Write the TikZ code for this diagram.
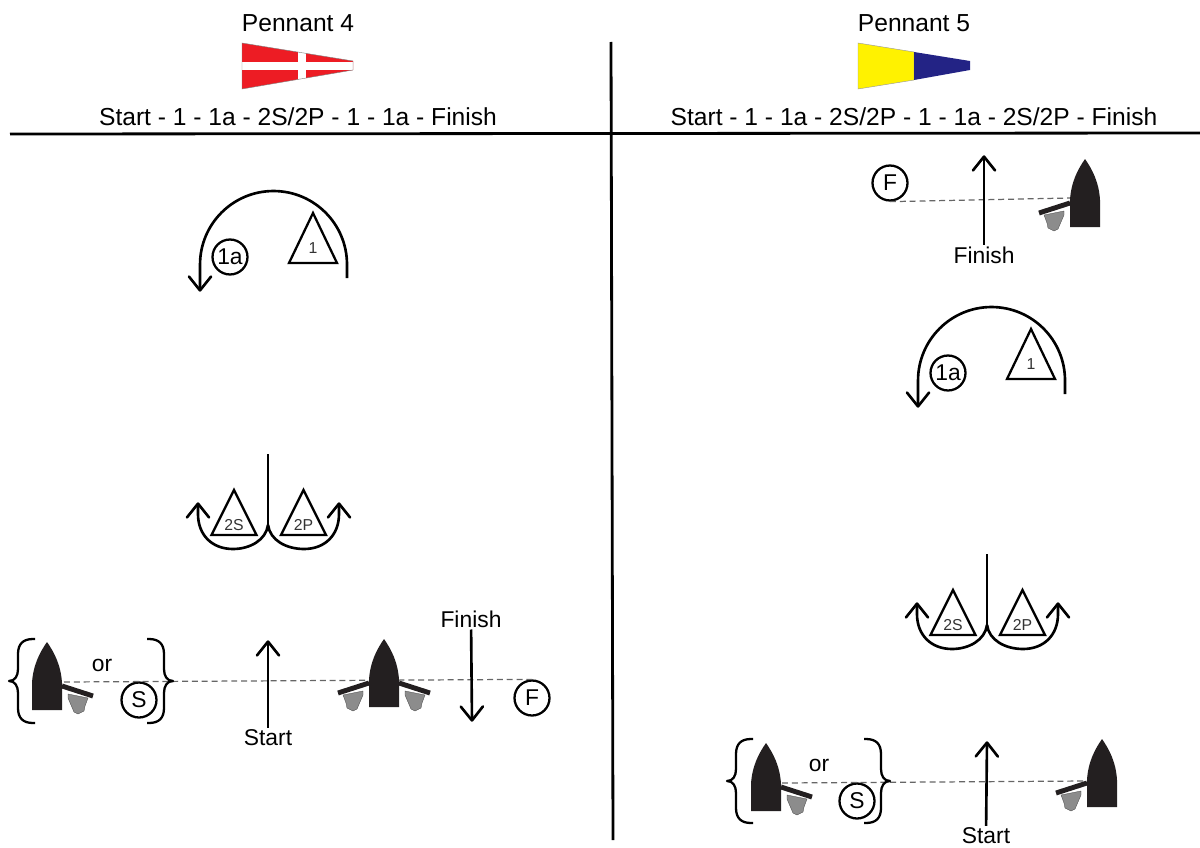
\documentclass[tikz,border=0pt]{standalone}
\usepackage{fontspec}
\setmainfont{Liberation Sans}
\usetikzlibrary{arrows.meta,shapes.geometric}

\definecolor{hullblack}{HTML}{231F20}
\definecolor{bladegray}{HTML}{8C8C8C}
\definecolor{flagred}{HTML}{ED1C24}
\definecolor{flagyellow}{HTML}{FFF200}
\definecolor{flagblue}{HTML}{232385}

% plain open head, two straight strokes
\pgfdeclarearrow{
    name=OpenHead,
    setup code={\pgfarrowssettipend{0.9pt}\pgfarrowssetlineend{-0.8pt}\pgfarrowssetbackend{-8pt}},
    drawing code={
        \pgfsetlinewidth{1.5pt}\pgfsetroundcap\pgfsetroundjoin
        \pgfpathmoveto{\pgfqpoint{-7.9pt}{6.3pt}}
        \pgfpathlineto{\pgfqpoint{0pt}{0pt}}
        \pgfpathlineto{\pgfqpoint{-7.9pt}{-6.3pt}}
        \pgfusepathqstroke
    }
}

\tikzset{
    course/.style={line width=1.5pt, black, -{OpenHead}},
    rule/.style={line width=1.6pt, black},
    sweep/.style={line width=1.5pt, black},
    startline/.style={line width=0.7pt, black!60, dash pattern=on 3.4pt off 2.2pt},
    roundmark/.style={circle, draw, line width=1.3pt, minimum size=0.7cm, inner sep=0pt, font=\fontsize{13}{15}\selectfont},
    bigtext/.style={font=\fontsize{14}{17}\selectfont, inner sep=1pt},
    smalltext/.style={font=\fontsize{13}{15}\selectfont, inner sep=1pt},
    buoy/.style={isosceles triangle, isosceles triangle stretches, shape border rotate=90, draw,
        line width=1.3pt, inner sep=0pt, outer sep=0pt, anchor=lower side, text=black!80,
        font=\fontsize{9}{10}\selectfont},
    curly/.pic={
        \draw[line width=1.3pt, black, line join=round] (26,42) -- (24,42) .. controls (14,42) and (9,37) .. (9,27) -- (9,12)
            .. controls (9,5) and (6,0) .. (0,0) .. controls (6,0) and (9,-5) .. (9,-12) -- (9,-27)
            .. controls (9,-37) and (14,-42) .. (24,-42) -- (26,-42);
    },
    hull/.pic={
        \fill[hullblack] (-15,0) -- (-15,27) .. controls (-14,45) and (-7,58) .. (0,68)
            .. controls (7,58) and (14,45) .. (15,27) -- (15,0) -- cycle;
    },
    tiller/.pic={
        \fill[bladegray, draw=black!70, line width=0.2pt] (21,16) -- (41,12) -- (38,4) -- (37,-1) -- (31,-4) -- (27,-2) -- (21,12) -- cycle;
        \draw[line width=2.8pt, hullblack] (15,24) -- (46,14);
    },
    rounding/.pic={
        \draw[course] (73.5,-13.5) -- (73.5,0) arc[start angle=0, end angle=180, radius=1.47cm] -- (-73.5,-27.5);
        \node[roundmark] (a) at (-43.5,7.5) {1a};
        \node[buoy, minimum width=0.96cm, minimum height=1cm] (one) at (39.5,1.5) {1};
    },
    gate/.pic={
        \draw[sweep] (0,73) -- (0,2);
        \draw[course] (0,2) .. controls (-2,-13) and (-18,-22) .. (-35,-22)
            .. controls (-56,-22) and (-70,-8) .. (-70,13) -- (-70,25);
        \draw[course] (0,2) .. controls (2,-13) and (18,-22) .. (36,-22)
            .. controls (57,-22) and (71,-8) .. (71,13) -- (71,25);
        \node[buoy, minimum width=0.9cm, minimum height=0.9cm] (s) at (-34,-8) {2S};
        \node[buoy, minimum width=0.9cm, minimum height=0.9cm] (p) at (35.5,-8) {2P};
    }
}

\begin{document}
\begin{tikzpicture}[x=0.02cm, y=0.02cm]
    \useasboundingbox (0,0) rectangle (1200,-848);

    % dividers
    \coordinate (ruleL) at (10,-134);
    \coordinate (ruleR) at (1200,-133);
    \coordinate (ruleT) at (611,-42);
    \coordinate (ruleB) at (613,-840);
    \draw[rule] (ruleL) -- (ruleR);
    \draw[rule] (ruleT) -- (ruleB);

    % headings
    \node[bigtext] (titleA) at (298,-23) {Pennant 4};
    \node[bigtext] (titleB) at (914,-23) {Pennant 5};
    \node[bigtext] (seqA) at (298,-117) {Start - 1 - 1a - 2S/2P - 1 - 1a - Finish};
    \node[bigtext] (seqB) at (914,-117) {Start - 1 - 1a - 2S/2P - 1 - 1a - 2S/2P - Finish};

    % pennants
    \fill[flagred] (242,-43) -- (353,-61) -- (353,-70) -- (242,-89) -- cycle;
    \fill[white] (242,-62) rectangle (353,-70);
    \fill[white] (298,-51) rectangle (306,-81);
    \draw[line width=0.25pt, black!50] (242,-43) -- (353,-61) -- (353,-70) -- (242,-89) -- cycle;
    \fill[flagyellow, draw=black!40, line width=0.25pt] (858,-43) -- (914,-52) -- (914,-80) -- (858,-89) -- cycle;
    \fill[flagblue] (914,-52) -- (970,-61) -- (970,-70) -- (914,-80) -- cycle;

    % Pennant 4 course
    \pic (roundA) at (273.5,-264.5) {rounding};
    \pic (gateA) at (268,-527) {gate};

    \node[smalltext] (orA) at (102,-665) {or};
    \node[roundmark] (sA) at (139,-700) {S};
    \node[roundmark] (fA) at (532,-698) {F};
    \coordinate (boatA) at (64,-682);
    \draw[startline] (boatA) -- (fA.north);

    \pic at (47,-710) {tiller};
    \pic at (47,-710) {hull};
    \pic at (384,-707) {tiller};
    \pic[xscale=-1] at (384,-707) {tiller};
    \pic at (384,-707) {hull};
    \pic at (9,-681) {curly};
    \pic[xscale=-1] at (173,-681) {curly};

    \node[smalltext] (startA) at (268,-738) {Start};
    \coordinate (startAtip) at (268,-640);
    \draw[course] (startA) -- (startAtip);
    \node[smalltext] (finishA) at (471,-619) {Finish};
    \coordinate (finishAtip) at (472,-722);
    \draw[course] (finishA) -- (finishAtip);

    % Pennant 5 course
    \pic (roundB) at (991.5,-380.5) {rounding};
    \pic (gateB) at (987,-627) {gate};

    % finish line at the top
    \node[roundmark] (fB) at (890,-183) {F};
    \coordinate (boatC) at (1070,-198);
    \draw[startline] (fB.south) -- (boatC);
    \pic[xscale=-1] at (1085,-227) {tiller};
    \pic at (1085,-227) {hull};
    \node[smalltext] (finishB) at (984,-255) {Finish};
    \coordinate (finishBtip) at (984,-155);
    \draw[course] (finishB) -- (finishBtip);

    % start line at the bottom
    \node[smalltext] (orB) at (819,-765) {or};
    \node[roundmark] (sB) at (857,-801) {S};
    \coordinate (boatD) at (782,-783);
    \coordinate (boatE) at (1087,-781);
    \draw[startline] (boatD) -- (boatE);

    \pic at (766,-811) {tiller};
    \pic at (766,-811) {hull};
    \pic[xscale=-1] at (1102,-807) {tiller};
    \pic at (1102,-807) {hull};
    \pic at (727,-781) {curly};
    \pic[xscale=-1] at (890,-781) {curly};

    \node[smalltext] (startB) at (986,-836) {Start};
    \coordinate (startBtip) at (987,-741);
    \draw[course] (startB) -- (startBtip);
\end{tikzpicture}
\end{document}
